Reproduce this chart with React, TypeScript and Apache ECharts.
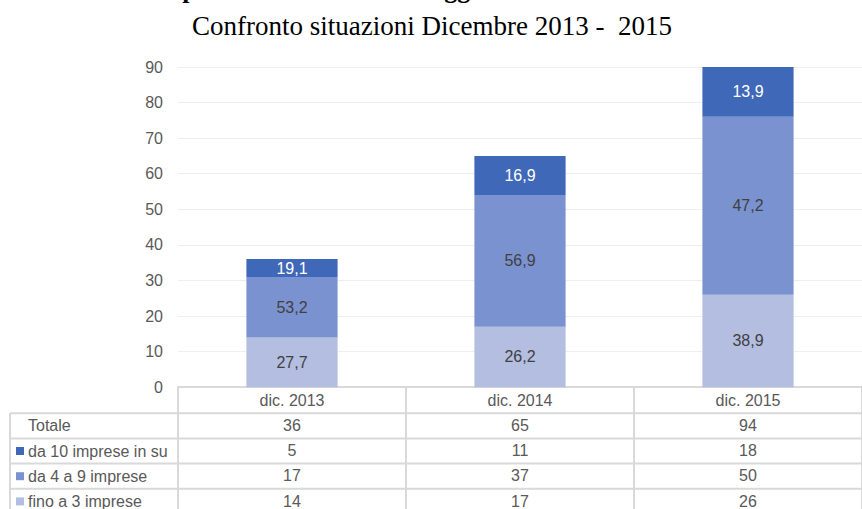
import React, { useEffect, useRef } from "react";
import * as echarts from "echarts";

// ---- data ----
const categories = ["dic. 2013", "dic. 2014", "dic. 2015"];
const seriesNames = ["fino a 3 imprese", "da 4 a 9 imprese", "da 10 imprese in su"];
const fino3 = [14, 17, 26];
const da4a9 = [17, 37, 50];
const da10 = [5, 11, 18];
const pctFino3 = [27.7, 26.2, 38.9];
const pctDa4a9 = [53.2, 56.9, 47.2];
const pctDa10 = [19.1, 16.9, 13.9];
const yMin = 0;
const yMax = 90;
const yInterval = 10;
const titleLine1 = "Le reti per numero medio di soggetti aderenti a dicembre";
const titleLine2 = "Confronto situazioni Dicembre 2013 -  2015";

// ---- style / layout ----
const colors = ["#B3BEE0", "#7A92D0", "#4068B8"];
const labelColors = ["#404040", "#404040", "#ffffff"];
const W = 862;
const H = 509;
const GRID_LEFT = 178;
const GRID_TOP = 67;
const GRID_BOTTOM_Y = 388;
const ROW_H = 25.2;
const LINE_COLOR = "#d9d9d9";
const TEXT_COLOR = "#595959";
const FONT = "'Liberation Sans', Arial, sans-serif";

const fmt = (v: number) => v.toFixed(1).replace(".", ",");

export default function App() {
  const ref = useRef<HTMLDivElement>(null);
  useEffect(() => {
    if (!ref.current) return;
    const chart = echarts.init(ref.current, undefined, { renderer: "svg" });

    const totals = categories.map((_, i) => fino3[i] + da4a9[i] + da10[i]);
    const tableRows = [
      { name: "Totale", values: totals, color: null as string | null },
      { name: seriesNames[2], values: da10, color: colors[2] },
      { name: seriesNames[1], values: da4a9, color: colors[1] },
      { name: seriesNames[0], values: fino3, color: colors[0] },
    ];

    const valuesList = [fino3, da4a9, da10];
    const pctList = [pctFino3, pctDa4a9, pctDa10];

    const extraXAxes = tableRows.map((r, k) => ({
      type: "category",
      gridIndex: 0,
      position: "bottom",
      offset: ROW_H * (k + 1),
      data: r.values.map((v) => String(v)),
      axisLine: { show: false },
      axisTick: { show: false },
      splitLine: { show: false },
      axisLabel: {
        interval: 0,
        margin: 5,
        color: TEXT_COLOR,
        fontSize: 16,
        fontFamily: FONT,
      },
    }));

    const graphics: any[] = [];
    // title
    graphics.push({
      type: "text",
      x: 418,
      y: -11,
      style: {
        text: titleLine1,
        font: "bold 26px 'Liberation Serif', 'Times New Roman', serif",
        fill: "#000",
        align: "center",
        verticalAlign: "middle",
      },
    });
    graphics.push({
      type: "text",
      x: 432,
      y: 26,
      style: {
        text: titleLine2,
        font: "27px 'Liberation Serif', 'Times New Roman', serif",
        fill: "#000",
        align: "center",
        verticalAlign: "middle",
      },
    });
    // table horizontal lines
    for (let k = 1; k <= 5; k++) {
      const y = GRID_BOTTOM_Y + ROW_H * k;
      graphics.push({
        type: "line",
        shape: { x1: 10, y1: y, x2: W, y2: y },
        style: { stroke: LINE_COLOR, lineWidth: 2 },
        silent: true,
      });
    }
    graphics.push({
      type: "line",
      shape: { x1: 10, y1: GRID_BOTTOM_Y + ROW_H, x2: 10, y2: H + 10 },
      style: { stroke: LINE_COLOR, lineWidth: 2 },
      silent: true,
    });
    graphics.push({
      type: "line",
      shape: { x1: GRID_LEFT, y1: GRID_BOTTOM_Y, x2: GRID_LEFT, y2: H + 10 },
      style: { stroke: LINE_COLOR, lineWidth: 2 },
      silent: true,
    });
    // row headers
    tableRows.forEach((r, k) => {
      const cy = GRID_BOTTOM_Y + ROW_H * (k + 1) + ROW_H / 2;
      if (r.color) {
        graphics.push({
          type: "rect",
          shape: { x: 16, y: cy - 4, width: 8, height: 8 },
          style: { fill: r.color },
          silent: true,
        });
      }
      graphics.push({
        type: "text",
        x: 28,
        y: cy,
        style: {
          text: r.name,
          font: `16px ${FONT}`,
          fill: TEXT_COLOR,
          verticalAlign: "middle",
          align: "left",
        },
        silent: true,
      });
    });

    chart.setOption({
      animation: false,
      backgroundColor: "#ffffff",
      grid: {
        left: GRID_LEFT,
        right: -6,
        top: GRID_TOP,
        height: GRID_BOTTOM_Y - GRID_TOP,
      },
      xAxis: [
        {
          type: "category",
          data: categories,
          axisLine: { show: true, lineStyle: { color: LINE_COLOR, width: 2 } },
          axisTick: {
            show: true,
            interval: 0,
            length: ROW_H * 5 + 5,
            lineStyle: { color: LINE_COLOR, width: 2 },
          },
          axisLabel: {
            interval: 0,
            margin: 5,
            color: TEXT_COLOR,
            fontSize: 16,
            fontFamily: FONT,
          },
        },
        ...extraXAxes,
      ],
      yAxis: {
        type: "value",
        min: yMin,
        max: yMax,
        interval: yInterval,
        axisLine: { show: false },
        axisTick: { show: false },
        splitLine: { lineStyle: { color: "#eeeeee", width: 1 } },
        axisLabel: {
          color: TEXT_COLOR,
          fontSize: 16,
          fontFamily: FONT,
          margin: 15,
        },
      },
      series: valuesList.map((vals, s) => ({
        type: "bar",
        name: seriesNames[s],
        stack: "total",
        barWidth: "40%",
        xAxisIndex: 0,
        itemStyle: { color: colors[s] },
        label: {
          show: true,
          position: "inside",
          color: labelColors[s],
          fontSize: 16,
          fontFamily: FONT,
          formatter: (p: any) => fmt(pctList[s][p.dataIndex]),
        },
        data: vals,
      })),
      graphic: graphics,
    });

    return () => chart.dispose();
  }, []);

  return (
    <div
      ref={ref}
      style={{ position: "fixed", left: 0, top: 0, width: W, height: H }}
    />
  );
}
